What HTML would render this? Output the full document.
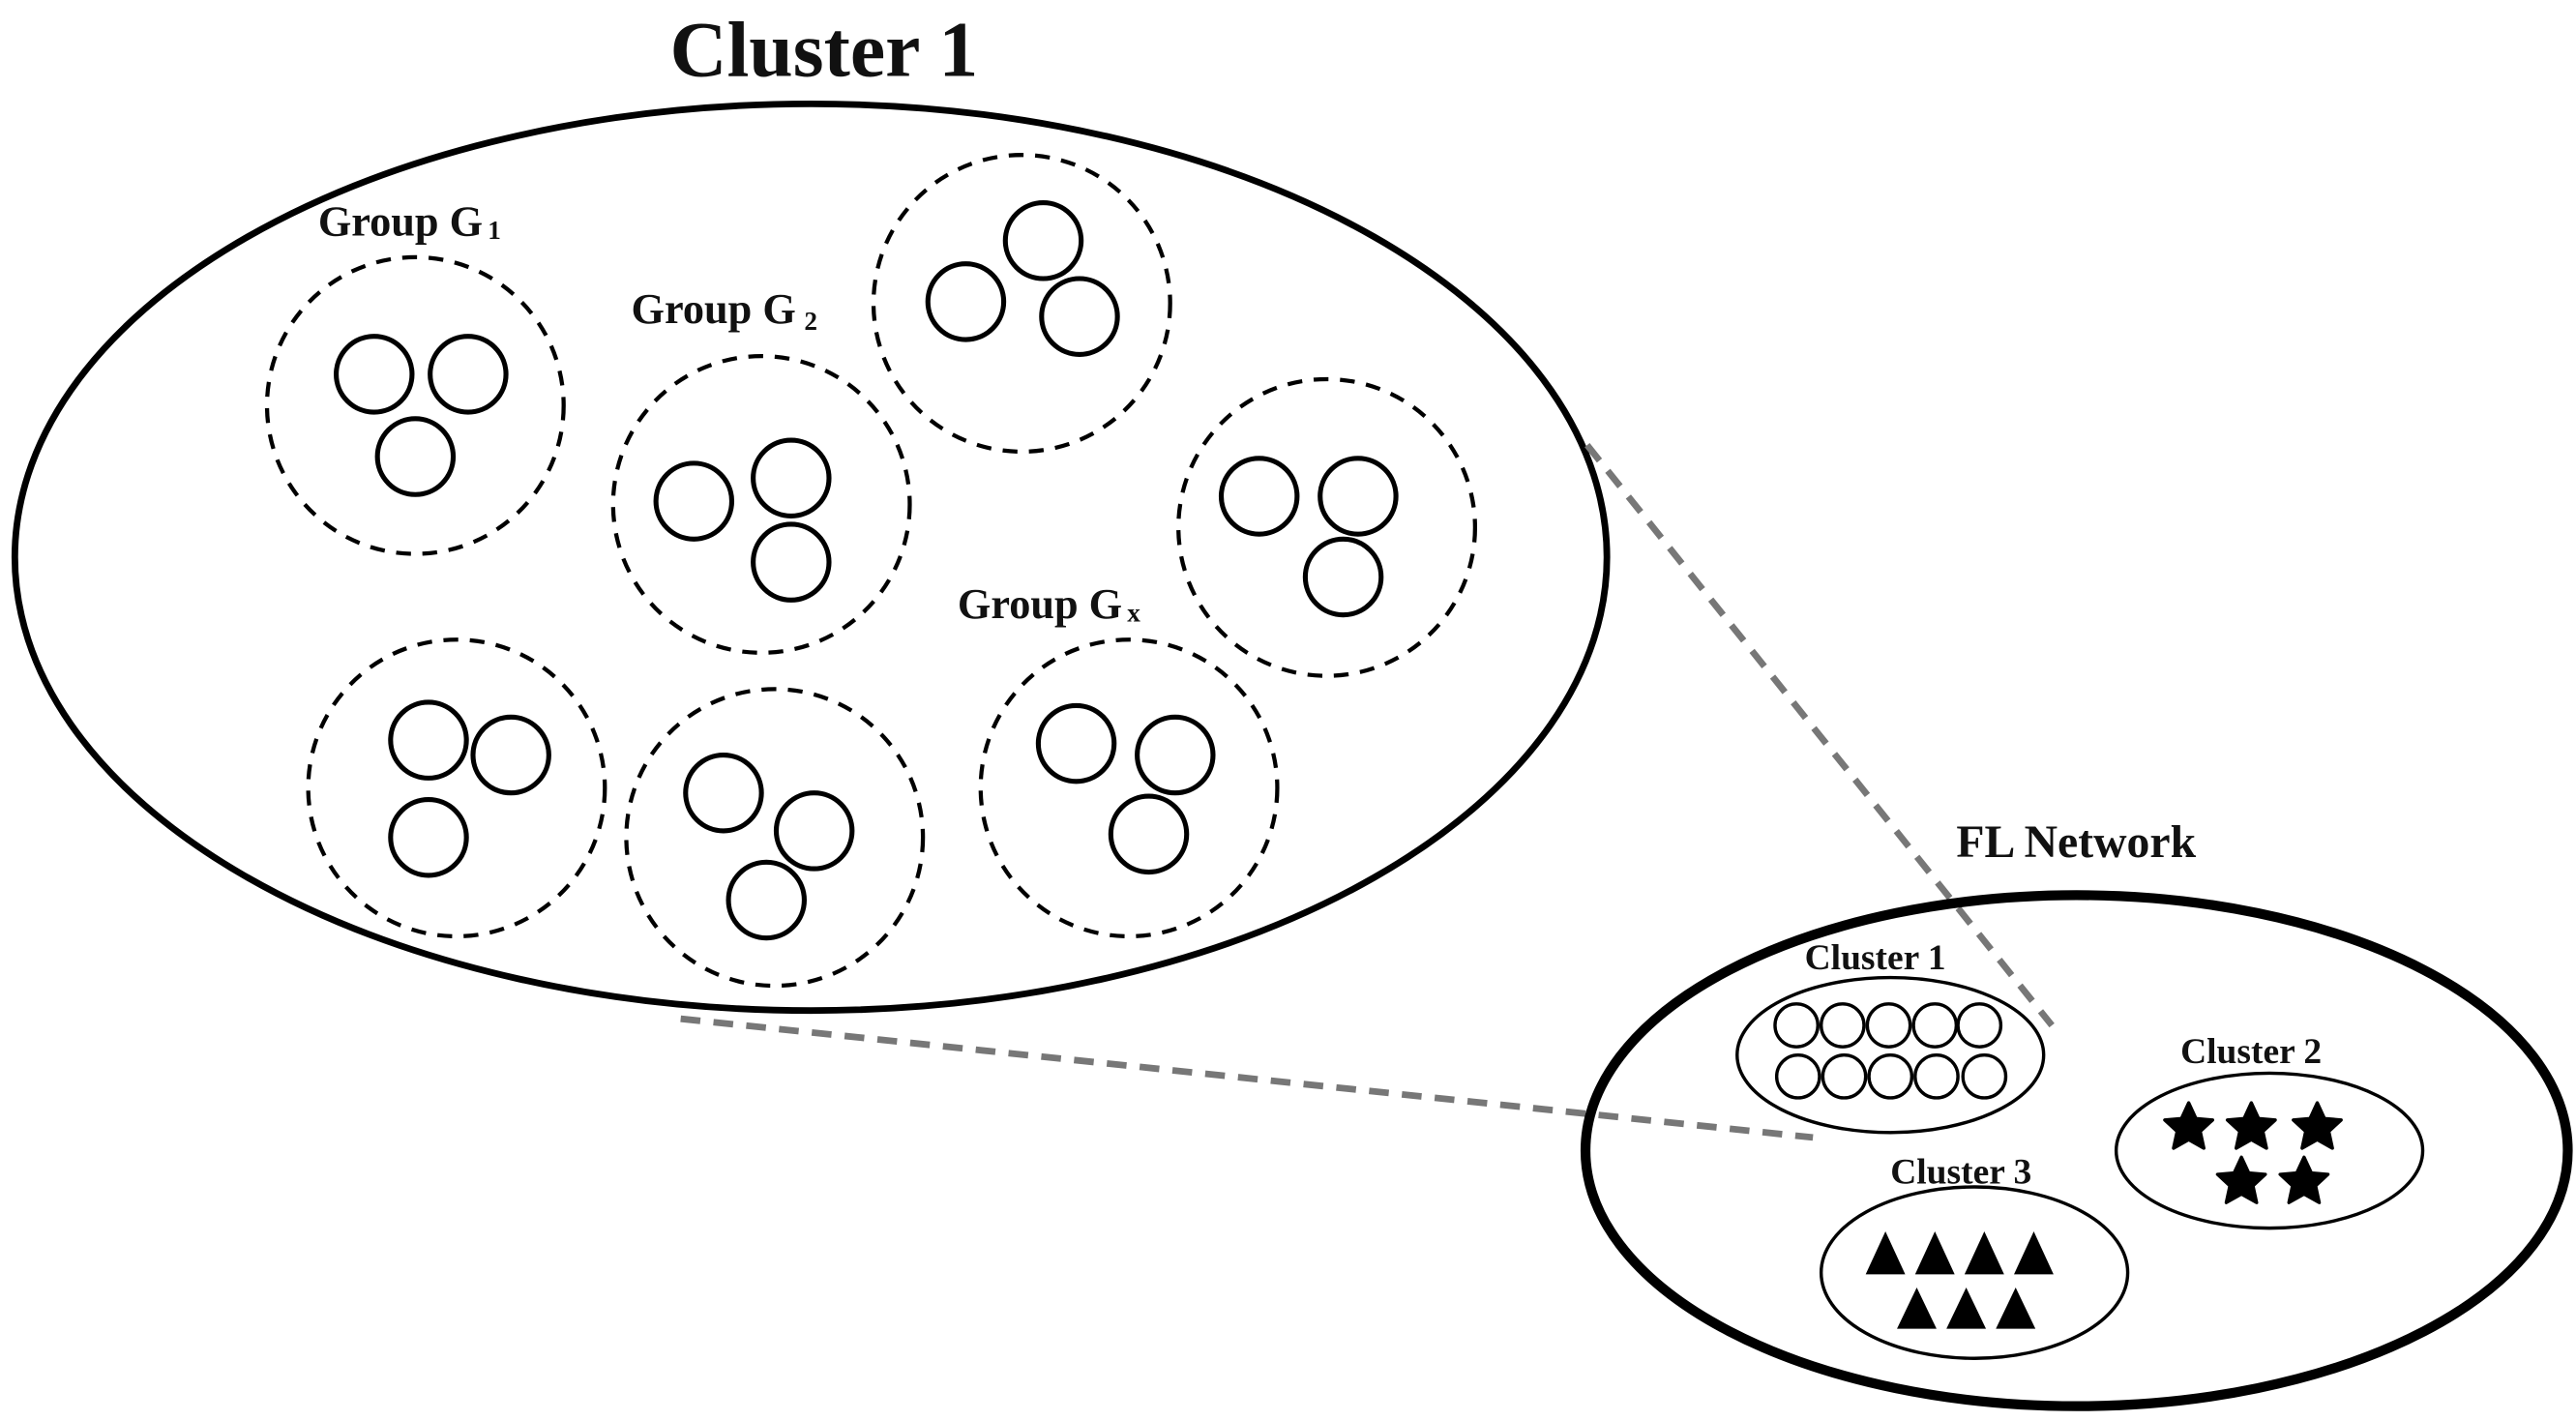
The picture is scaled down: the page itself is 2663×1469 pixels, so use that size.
<!DOCTYPE html>
<html><head><meta charset="utf-8"><style>
html,body{margin:0;padding:0;background:#fff;}
svg{display:block;}
text{font-family:"Liberation Serif",serif;font-weight:bold;fill:#111;}
</style></head><body>
<svg width="2663" height="1469" viewBox="0 0 1563 862" preserveAspectRatio="none" xmlns="http://www.w3.org/2000/svg">
<defs>
<path id="star" d="M0,-15 L4.4,-5.5 L14.5,-4.6 L7,2.3 L9.2,12.5 L0,7.3 L-9.2,12.5 L-7,2.3 L-14.5,-4.6 L-4.4,-5.5 Z" fill="#000" stroke="#000" stroke-width="2" stroke-linejoin="round"/>
</defs>
<text x="500" y="46" font-size="48" text-anchor="middle">Cluster 1</text>
<ellipse cx="492" cy="338" rx="483" ry="275" fill="none" stroke="#000" stroke-width="4"/>
<g fill="none" stroke="#000" stroke-width="2.5" stroke-dasharray="9 7">
<circle cx="252" cy="246" r="90"/>
<circle cx="462" cy="306" r="90"/>
<circle cx="620" cy="184" r="90"/>
<circle cx="805" cy="320" r="90"/>
<circle cx="277" cy="478" r="90"/>
<circle cx="470" cy="508" r="90"/>
<circle cx="685" cy="478" r="90"/>
</g>
<g fill="none" stroke="#000" stroke-width="3">
<circle cx="227" cy="227" r="23"/><circle cx="284" cy="227" r="23"/><circle cx="252" cy="277" r="23"/>
<circle cx="633" cy="146" r="23"/><circle cx="586" cy="183" r="23"/><circle cx="655" cy="192" r="23"/>
<circle cx="421" cy="304" r="23"/><circle cx="480" cy="290" r="23"/><circle cx="480" cy="341" r="23"/>
<circle cx="764" cy="301" r="23"/><circle cx="824" cy="301" r="23"/><circle cx="815" cy="350" r="23"/>
<circle cx="260" cy="449" r="23"/><circle cx="310" cy="458" r="23"/><circle cx="260" cy="508" r="23"/>
<circle cx="439" cy="481" r="23"/><circle cx="494" cy="504" r="23"/><circle cx="465" cy="546" r="23"/>
<circle cx="653" cy="451" r="23"/><circle cx="713" cy="458" r="23"/><circle cx="697" cy="506" r="23"/>
</g>
<text x="193" y="143" font-size="26">Group G<tspan font-size="16" dx="3" dy="2">1</tspan></text>
<text x="383" y="196" font-size="26">Group G<tspan font-size="16" dx="5" dy="4">2</tspan></text>
<text x="581" y="375" font-size="26">Group G<tspan font-size="16" dx="3" dy="2">x</tspan></text>
<g stroke="#777" stroke-width="4" stroke-dasharray="12 8">
<line x1="963" y1="270" x2="1245" y2="622"/>
<line x1="413" y1="618" x2="1100" y2="690"/>
</g>
<text x="1187" y="520" font-size="28">FL Network</text>
<ellipse cx="1260" cy="698" rx="298" ry="155" fill="none" stroke="#000" stroke-width="6"/>
<g fill="none" stroke="#000" stroke-width="2">
<ellipse cx="1147" cy="640" rx="93" ry="47"/>
<ellipse cx="1377" cy="698" rx="93" ry="47"/>
<ellipse cx="1198" cy="772" rx="93" ry="52"/>
<circle cx="1090" cy="622" r="13"/><circle cx="1118" cy="622" r="13"/><circle cx="1146" cy="622" r="13"/><circle cx="1174" cy="622" r="13"/><circle cx="1201" cy="622" r="13"/>
<circle cx="1091" cy="653" r="13"/><circle cx="1119" cy="653" r="13"/><circle cx="1147" cy="653" r="13"/><circle cx="1175" cy="653" r="13"/><circle cx="1204" cy="653" r="13"/>
</g>
<text x="1095" y="588" font-size="22" font-weight="normal">Cluster 1</text>
<text x="1323" y="645" font-size="22" font-weight="normal">Cluster 2</text>
<text x="1147" y="718" font-size="22" font-weight="normal">Cluster 3</text>
<use href="#star" x="1328" y="684"/><use href="#star" x="1366" y="684"/><use href="#star" x="1406" y="684"/>
<use href="#star" x="1360" y="717"/><use href="#star" x="1398" y="717"/>
<g fill="#000">
<polygon points="1132,773 1144,747 1156,773"/>
<polygon points="1162,773 1174,747 1186,773"/>
<polygon points="1192,773 1204,747 1216,773"/>
<polygon points="1222,773 1234,747 1246,773"/>
<polygon points="1151,806 1163,781 1175,806"/>
<polygon points="1181,806 1193,781 1205,806"/>
<polygon points="1211,806 1223,781 1235,806"/>
</g>
</svg>
</body></html>
